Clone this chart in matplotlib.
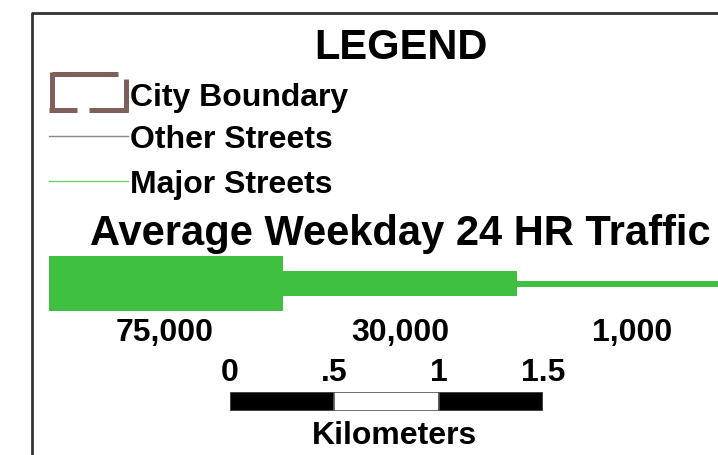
import matplotlib
matplotlib.use("Agg")
import matplotlib.pyplot as plt
from matplotlib.patches import Rectangle

plt.rcParams['font.family'] = ['Liberation Sans', 'DejaVu Sans']
plt.rcParams['font.weight'] = 'bold'

# legend entries
legend_labels = ["City Boundary", "Other Streets", "Major Streets"]
legend_colors = ["#80605a", "#888888", "#6ad46a"]

# traffic classes (label, bar thickness in px)
traffic_labels = ["75,000", "30,000", "1,000"]
traffic_widths = [55, 25, 6]
traffic_color = "#40c040"

# scale bar
scale_ticks = [0, 0.5, 1, 1.5]
scale_tick_labels = ["0", ".5", "1", "1.5"]
scale_fill = ["black", "white", "black"]

fig = plt.figure(figsize=(7.18, 4.56), dpi=100)
ax = fig.add_axes([0, 0, 1, 1])
ax.set_xlim(0, 718)
ax.set_ylim(456, 0)
ax.axis("off")

# frame (left and top)
ax.plot([32, 32, 718], [456, 14, 14], color="#333333", lw=2, solid_capstyle="butt")

ax.text(401, 48, "LEGEND", fontsize=30, ha="center", va="center")

# city boundary symbol (dashed box)
bc = legend_colors[0]
segs = [([51.5, 118], [75, 75]), ([51.5, 51.5], [73, 113]), ([49, 77], [110.5, 110.5]),
        ([89, 128], [110.5, 110.5]), ([125.5, 125.5], [80, 113])]
for xs, ys in segs:
    ax.plot(xs, ys, color=bc, lw=3.6, solid_capstyle="butt")

ys_leg = [95, 137, 182]
for i, (lab, col) in enumerate(zip(legend_labels, legend_colors)):
    if i > 0:
        ax.plot([49, 128], [ys_leg[i], ys_leg[i]], color=col, lw=1)
    ax.text(130, ys_leg[i] + 3, lab, fontsize=23, ha="left", va="center")

ax.text(400, 234, "Average Weekday 24 HR Traffic", fontsize=30, ha="center", va="center")

# traffic bar: three segments
seg_x = [49, 283, 517, 718]
bar_cy = 284.5
for i, w in enumerate(traffic_widths):
    ax.add_patch(Rectangle((seg_x[i], bar_cy - w / 2), seg_x[i + 1] - seg_x[i], w,
                           color=traffic_color, lw=0))
label_x = [165, 400, 632]
for x, lab in zip(label_x, traffic_labels):
    ax.text(x, 333, lab, fontsize=23, ha="center", va="center")

# scale bar in km, through its own axes
sx0, sx1 = 230, 543
sax = fig.add_axes([sx0 / 718, 1 - 412 / 456, (sx1 - sx0) / 718, 19 / 456])
sax.set_xlim(scale_ticks[0], scale_ticks[-1])
sax.set_ylim(0, 1)
sax.axis("off")
lefts = scale_ticks[:-1]
widths = [b - a for a, b in zip(scale_ticks[:-1], scale_ticks[1:])]
sax.bar(lefts, [1] * len(lefts), width=widths, align="edge", color=scale_fill,
        edgecolor="#555555", linewidth=1.2)
for t, lab in zip(scale_ticks, scale_tick_labels):
    sax.text(t, 1.25, lab, fontsize=23, ha="center", va="bottom",
             transform=sax.transData, clip_on=False)
sax.text(0.525, -0.5, "Kilometers", fontsize=23, ha="center", va="top",
         transform=sax.transAxes, clip_on=False)

fig.savefig("out.png", dpi=100)
